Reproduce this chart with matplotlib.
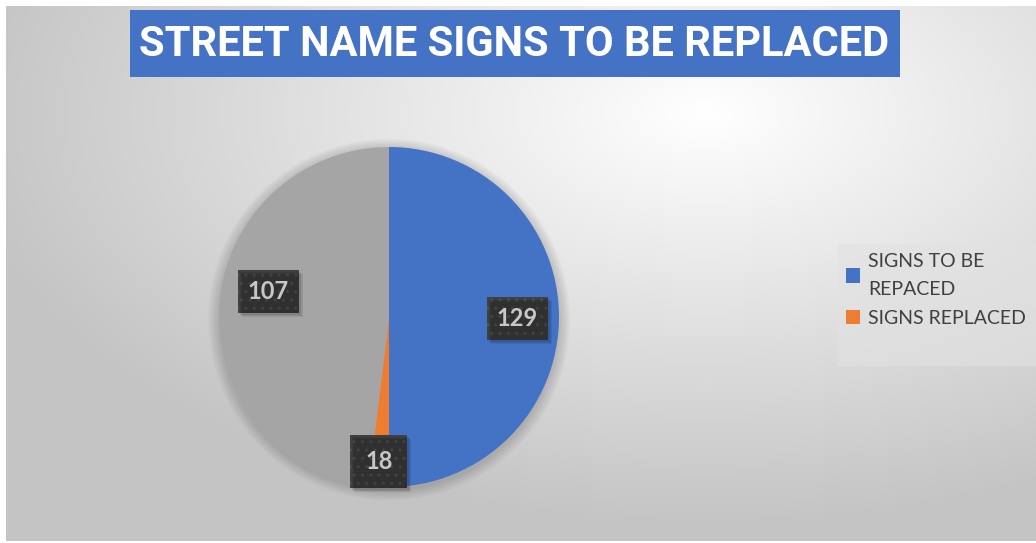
import numpy as np
import matplotlib
matplotlib.use("Agg")
import matplotlib.pyplot as plt
from matplotlib.patches import Rectangle

# slice sizes (blue half, thin orange, grey rest)
categories = ["SIGNS TO BE\nREPACED", "SIGNS REPLACED", ""]
slice_values = [129, 5, 124]
label_text = ["129", "18", "107"]
colors = ["#4472c4", "#ed7d31", "#a5a5a5"]
title = "STREET NAME SIGNS TO BE REPLACED"

W, H = 1036, 543
fig = plt.figure(figsize=(W / 100, H / 100), dpi=100)
fig.patch.set_facecolor("white")

# radial gradient chart background
bg = fig.add_axes([6 / W, 2 / H, 1 - 6 / W, 1 - 8 / H])
bg.set_axis_off()
yy, xx = np.mgrid[0:1:300j, 0:1:560j]
d = np.sqrt(((xx - 0.68) / 0.95) ** 2 + ((yy - 0.20) / 1.0) ** 2)
shade = np.clip(1.0 - 0.30 * d, 0.77, 1.0)
bg.imshow(np.dstack([shade] * 3), extent=[0, 1, 0, 1], aspect="auto", origin="upper")
bg.set_xlim(0, 1)
bg.set_ylim(0, 1)

# title banner
fig.patches.append(Rectangle((130 / W, 1 - 77 / H), 770 / W, 67 / H, transform=fig.transFigure,
                             facecolor="#4472c4", edgecolor="none", zorder=2))
fig.text(514 / W, 1 - 45 / H, title, ha="center", va="center", color="white",
         fontsize=30, fontweight="bold", family=["Roboto", "DejaVu Sans"], zorder=3)

# pie
cx, cy, r = 389, 317, 170
ax = fig.add_axes([(cx - r * 1.1) / W, 1 - (cy + r * 1.1) / H, 2.2 * r / W, 2.2 * r / H])
ax.set_axis_off()
# soft drop shadow
for k in range(8):
    ax.add_patch(plt.Circle((0.0, -0.015), 1.0 + 0.008 * (k + 1), color="black", alpha=0.018, lw=0))
wedges, _ = ax.pie(slice_values, colors=colors, startangle=90, counterclock=False,
                   radius=1.0, wedgeprops=dict(linewidth=0))
ax.set_xlim(-1.1, 1.1)
ax.set_ylim(-1.1, 1.1)

# data labels (Excel-style best fit positions, in pie radius units)
label_pos = [(0.755, -0.01), (-0.06, -0.85), (-0.71, 0.15)]
label_pad = [0.42, 0.62, 0.42]
boxes = []
for txt, (lx, ly), pad in zip(label_text, label_pos, label_pad):
    t = ax.text(lx, ly, txt, ha="center", va="center", fontsize=17, color="white",
                fontweight="bold", family=["Lato", "DejaVu Sans"], zorder=5,
                bbox=dict(boxstyle=f"square,pad={pad}", fc="#404040", ec="#555555", lw=0,
                          hatch=".."))
    boxes.append(t)

fig.canvas.draw()
for t in boxes:
    bb = t.get_bbox_patch().get_window_extent()
    for k in range(3):
        o = 2 + k
        fig.patches.append(Rectangle(((bb.x0 + o) / W, (bb.y0 - o) / H), bb.width / W, bb.height / H,
                                     transform=fig.transFigure, facecolor="black", alpha=0.08,
                                     edgecolor="none", zorder=1.5))

# legend
fig.patches.append(Rectangle((838 / W, 1 - 366 / H), 198 / W, 122 / H, transform=fig.transFigure,
                             facecolor="#e2e2e2", edgecolor="none", alpha=0.6, zorder=1))
handles = [wedges[0], wedges[1]]
leg = fig.legend(handles, categories[:2], loc="upper left", bbox_to_anchor=(832 / W, 1 - 239 / H),
                 frameon=False, prop=dict(family=["Lato", "DejaVu Sans"], size=14),
                 handlelength=0.75, handleheight=0.75, handletextpad=0.4, labelspacing=0.62,
                 borderpad=0.2)
for t in leg.get_texts():
    t.set_color("#404040")
    t.set_linespacing(1.8)

fig.savefig("out.png", dpi=100)
